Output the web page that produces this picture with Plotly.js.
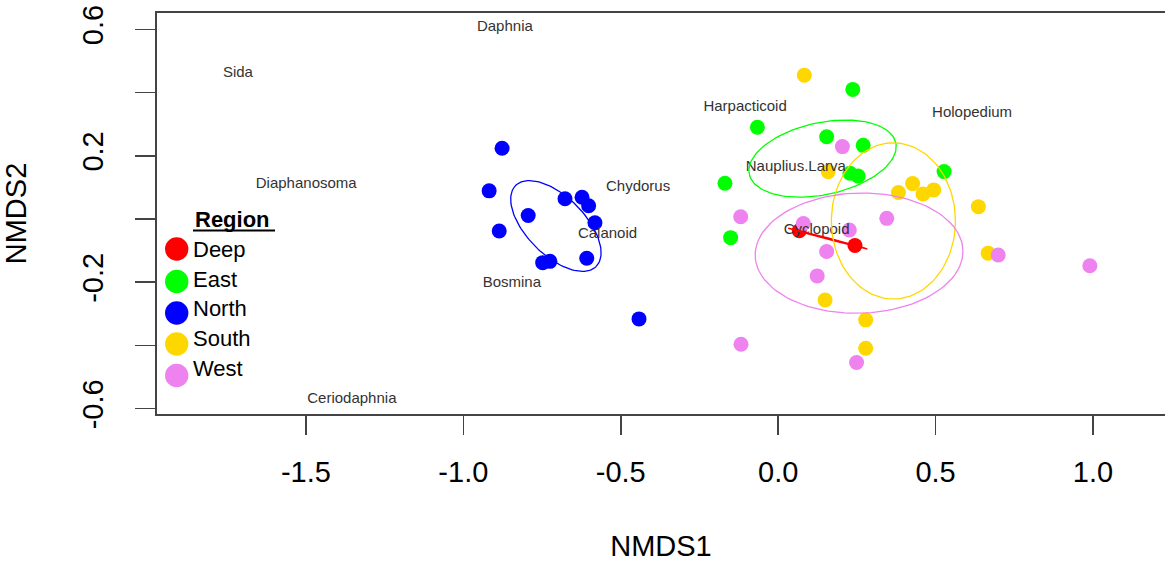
<!DOCTYPE html>
<html>
<head>
<meta charset="utf-8">
<script src="https://cdn.plot.ly/plotly-3.0.1.min.js"></script>
<style>html,body{margin:0;padding:0;background:#fff;overflow:hidden;}#chart{width:1165px;height:563px;}</style>
</head>
<body>
<div id="chart"></div>
<script>
// ---- data ----
const regions = ['Deep', 'East', 'North', 'South', 'West'];
const regionColors = ['#FF0000', '#00FF00', '#0000FF', '#FFD700', '#EE82EE'];

const deepX  = [0.067, 0.244];
const deepY  = [-0.037, -0.084];
const eastX  = [0.237, -0.066, 0.154, 0.270, -0.169, 0.228, 0.254, 0.527, -0.151];
const eastY  = [0.410, 0.290, 0.260, 0.233, 0.113, 0.145, 0.136, 0.150, -0.059];
const northX = [-0.877, -0.918, -0.886, -0.794, -0.677, -0.623, -0.602, -0.582, -0.608, -0.748, -0.725, -0.442];
const northY = [0.224, 0.089, -0.038, 0.011, 0.064, 0.069, 0.042, -0.012, -0.124, -0.138, -0.134, -0.316];
const southX = [0.083, 0.159, 0.382, 0.427, 0.460, 0.494, 0.636, 0.667, 0.149, 0.278, 0.278];
const southY = [0.455, 0.150, 0.084, 0.112, 0.079, 0.092, 0.039, -0.108, -0.256, -0.319, -0.409];
const westX  = [0.204, -0.119, 0.080, 0.226, 0.345, 0.154, 0.124, 0.699, 0.990, -0.118, 0.249];
const westY  = [0.229, 0.007, -0.014, -0.035, 0.002, -0.103, -0.180, -0.114, -0.148, -0.396, -0.454];

const species  = ['Daphnia', 'Sida', 'Diaphanosoma', 'Ceriodaphnia', 'Bosmina', 'Chydorus', 'Calanoid', 'Harpacticoid', 'Holopedium', 'Nauplius.Larva', 'Cyclopoid'];
const speciesX = [-0.868, -1.716, -1.499, -1.354, -0.846, -0.445, -0.542, -0.105, 0.616, 0.056, 0.122];
const speciesY = [0.607, 0.462, 0.111, -0.569, -0.202, 0.101, -0.047, 0.353, 0.335, 0.164, -0.037];

// ellipse parameters per region (centre, semi-axes, rotation in degrees)
const ellCx    = [0.158, 0.141, -0.706, 0.366, 0.257];
const ellCy    = [-0.062, 0.191, -0.022, -0.006, -0.108];
const ellA     = [0.130, 0.238, 0.181, 0.197, 0.330];
const ellB     = [0.002, 0.114, 0.092, 0.247, 0.190];
const ellAngle = [-14.7, 12, -45, 0, 1.5];

const xTickVals = [-1.5, -1.0, -0.5, 0.0, 0.5, 1.0];
const xTickText = ['-1.5', '-1.0', '-0.5', '0.0', '0.5', '1.0'];
const yTickVals = [-0.6, -0.4, -0.2, 0.0, 0.2, 0.4, 0.6];
const yTickText = ['-0.6', '', '-0.2', '', '0.2', '', '0.6'];

// ---- build traces ----
const FONT = 'Liberation Sans, Arial, sans-serif';
const groupX = [deepX, eastX, northX, southX, westX];
const groupY = [deepY, eastY, northY, southY, westY];
const traces = [];

regions.forEach((r, i) => {
  traces.push({
    type: 'scatter', mode: 'markers', name: r, x: groupX[i], y: groupY[i],
    marker: {color: regionColors[i], size: 15, line: {width: 0}},
    showlegend: false, hoverinfo: 'skip'
  });
});

traces.push({
  type: 'scatter', mode: 'text', x: speciesX, y: speciesY, text: species,
  textposition: 'middle center',
  textfont: {family: FONT, size: 15, color: '#333333'},
  showlegend: false, hoverinfo: 'skip'
});

function ellipse(cx, cy, a, b, deg) {
  const th = deg * Math.PI / 180, xs = [], ys = [];
  for (let k = 0; k <= 120; k++) {
    const t = 2 * Math.PI * k / 120;
    xs.push(cx + a * Math.cos(t) * Math.cos(th) - b * Math.sin(t) * Math.sin(th));
    ys.push(cy + a * Math.cos(t) * Math.sin(th) + b * Math.sin(t) * Math.cos(th));
  }
  return [xs, ys];
}
regions.forEach((r, i) => {
  const [ex, ey] = ellipse(ellCx[i], ellCy[i], ellA[i], ellB[i], ellAngle[i]);
  traces.push({
    type: 'scatter', mode: 'lines', x: ex, y: ey,
    line: {color: regionColors[i], width: 1.3},
    showlegend: false, hoverinfo: 'skip'
  });
});

// ---- layout ----
const L = 157, R = 0, T = 13, B = 149, W = 1165, H = 563;
const pw = W - L - R, ph = H - T - B;
const px = p => (p - L) / pw;
const py = p => (H - B - p) / ph;

const shapes = [];
const annotations = [];
annotations.push({
  xref: 'paper', yref: 'paper', x: px(192.5), y: py(219), xanchor: 'left', yanchor: 'middle',
  text: '<b>Region</b>', showarrow: false, font: {family: FONT, size: 22, color: '#000'}
});
shapes.push({type: 'line', xref: 'paper', yref: 'paper', x0: px(193), x1: px(275), y0: py(230.5), y1: py(230.5),
  line: {color: '#000', width: 2}});
const circY = [249, 281.5, 313, 344, 375.5];
const textY = [249, 279, 308.5, 338.5, 368.5];
regions.forEach((r, i) => {
  shapes.push({
    type: 'circle', xref: 'paper', yref: 'paper', xsizemode: 'pixel', ysizemode: 'pixel',
    xanchor: px(176.7), yanchor: py(circY[i]), x0: -11.7, x1: 11.7, y0: -11.7, y1: 11.7,
    fillcolor: regionColors[i], line: {width: 0}
  });
  annotations.push({
    xref: 'paper', yref: 'paper', x: px(191), y: py(textY[i]), xanchor: 'left', yanchor: 'middle',
    text: r, showarrow: false, font: {family: FONT, size: 22, color: '#000'}
  });
});

const layout = {
  width: W, height: H,
  margin: {l: L, r: R, t: T, b: B, pad: 0},
  paper_bgcolor: '#fff', plot_bgcolor: '#fff',
  font: {family: FONT, color: '#000'},
  showlegend: false, hovermode: false,
  xaxis: {
    range: [-1.973, 1.2287], tickvals: xTickVals, ticktext: xTickText,
    ticks: 'outside', ticklen: 19, tickwidth: 1.5, tickcolor: '#444',
    showline: true, linecolor: '#444', linewidth: 2, mirror: true,
    showgrid: false, zeroline: false, automargin: false,
    tickfont: {family: FONT, size: 29, color: '#000'}, ticklabelstandoff: 12,
    title: {text: 'NMDS1', font: {family: FONT, size: 29, color: '#000'}, standoff: 49}
  },
  yaxis: {
    range: [-0.6168, 0.6516], tickvals: yTickVals, ticktext: yTickText, tickangle: -90,
    ticks: 'outside', ticklen: 20, tickwidth: 1.5, tickcolor: '#444',
    showline: true, linecolor: '#444', linewidth: 2, mirror: false,
    showgrid: false, zeroline: false, automargin: false,
    tickfont: {family: FONT, size: 29, color: '#000'}, ticklabelstandoff: 20,
    title: {text: 'NMDS2', font: {family: FONT, size: 29, color: '#000'}, standoff: 43}
  },
  shapes: shapes, annotations: annotations
};

Plotly.newPlot('chart', traces, layout, {staticPlot: true, displayModeBar: false});
</script>
</body>
</html>
